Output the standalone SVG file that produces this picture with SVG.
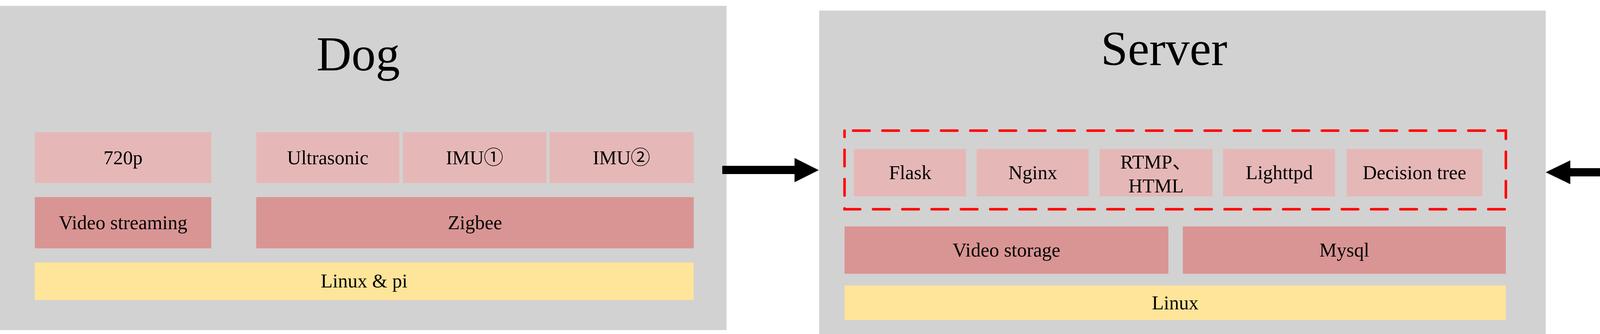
<svg xmlns="http://www.w3.org/2000/svg" width="6083" height="854" viewBox="0 0 6083 854">
<style>
.panel{fill:#D2D2D2}
.lt{fill:#E5B8B7}
.dk{fill:#D99594}
.yl{fill:#FFE599}
text{font-family:"Liberation Serif","Times New Roman","Noto Sans CJK SC",serif;fill:#000;text-anchor:middle}
.title{font-size:124px}
.lbl{font-size:50px}
.arrow{fill:#000}
.dash{fill:none;stroke:#FF0000;stroke-width:6.5;stroke-dasharray:42 33;stroke-dashoffset:-22;stroke-linecap:round}
</style>
<rect width="6083" height="854" fill="#FFFFFF"/>

<g id="dog">
<rect class="panel" x="0" y="15" width="1860" height="829"/>
<text class="title" x="917" y="180">Dog</text>
</g>
<g id="dog-720p"><rect class="lt" x="89" y="338" width="452" height="130"/><text class="lbl" x="315" y="420">720p</text></g>
<g id="dog-ultrasonic"><rect class="lt" x="656" y="338" width="366" height="130"/><text class="lbl" x="839" y="420">Ultrasonic</text></g>
<g id="dog-imu1"><rect class="lt" x="1031" y="338" width="368" height="130"/><text class="lbl" x="1215" y="420">IMU①</text></g>
<g id="dog-imu2"><rect class="lt" x="1407" y="338" width="369" height="130"/><text class="lbl" x="1591" y="420">IMU②</text></g>
<g id="dog-video-streaming"><rect class="dk" x="89" y="504" width="452" height="131"/><text class="lbl" x="315" y="586">Video streaming</text></g>
<g id="dog-zigbee"><rect class="dk" x="656" y="504" width="1120" height="131"/><text class="lbl" x="1216" y="586">Zigbee</text></g>
<g id="dog-linux-pi"><rect class="yl" x="89" y="671" width="1687" height="96"/><text class="lbl" x="932" y="735">Linux &amp; pi</text></g>

<g id="server">
<rect class="panel" x="2097" y="27" width="1860" height="827"/>
<text class="title" x="2980" y="166">Server</text>
</g>
<g id="server-services"><rect class="dash" x="2162" y="334" width="1693" height="201"/></g>
<g id="server-flask"><rect class="lt" x="2186" y="381" width="287" height="121"/><text class="lbl" x="2330" y="458">Flask</text></g>
<g id="server-nginx"><rect class="lt" x="2500" y="381" width="287" height="121"/><text class="lbl" x="2644" y="458">Nginx</text></g>
<g id="server-rtmp-html"><rect class="lt" x="2815" y="381" width="289" height="121"/><text class="lbl"><tspan x="2959.5" y="431">RTMP、</tspan><tspan x="2959.5" y="492">HTML</tspan></text></g>
<g id="server-lighttpd"><rect class="lt" x="3131" y="381" width="287" height="121"/><text class="lbl" x="3275" y="458">Lighttpd</text></g>
<g id="server-decision-tree"><rect class="lt" x="3447" y="381" width="348" height="121"/><text class="lbl" x="3621" y="458">Decision tree</text></g>
<g id="server-video-storage"><rect class="dk" x="2162" y="579" width="829" height="121"/><text class="lbl" x="2576.5" y="656">Video storage</text></g>
<g id="server-mysql"><rect class="dk" x="3028" y="579" width="827" height="121"/><text class="lbl" x="3441.5" y="656">Mysql</text></g>
<g id="server-linux"><rect class="yl" x="2162" y="730" width="1693" height="88"/><text class="lbl" x="3008.5" y="791">Linux</text></g>

<g id="front-end">
<rect class="panel" x="4223" y="0" width="1860" height="854"/>
<text class="title" x="5163" y="166">Front-End</text>
</g>
<g id="fe-live-sensors"><rect class="lt" x="4401" y="284" width="460" height="207"/><text class="lbl" x="4631" y="404">Live sensors data</text></g>
<g id="fe-pose-model"><rect class="lt" x="4988" y="284" width="460" height="207"/><text class="lbl" x="5218" y="404">Pose model</text></g>
<g id="fe-live-video"><rect class="lt" x="5547" y="281" width="459" height="207"/><text class="lbl" x="5776.5" y="401">Live video</text></g>
<g id="fe-ajax"><rect class="dk" x="4395" y="549" width="1606" height="98"/><text class="lbl" x="5198" y="614">Ajax</text></g>
<g id="fe-browser"><rect class="yl" x="4395" y="701" width="1606" height="92"/><text class="lbl" x="5198" y="763">Browser</text></g>

<g id="connectors">
<polygon class="arrow" points="1849,424 2034,424 2034,404 2096,435 2034,466 2034,445 1849,445"/>
<polygon class="arrow" points="3957,440.5 4020,410 4020,430 4160,430 4160,410 4223,440.5 4160,471 4160,451 4020,451 4020,471"/>
</g>
</svg>
